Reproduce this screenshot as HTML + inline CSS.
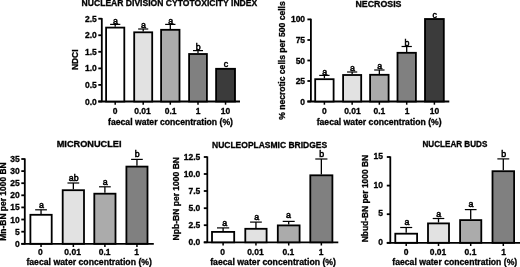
<!DOCTYPE html>
<html><head><meta charset="utf-8"><title>Figure</title>
<style>html,body{margin:0;padding:0;background:#fff}svg{display:block}
text{font-family:"Liberation Sans",Arial,sans-serif;font-weight:bold;fill:#000}
line,rect.b{stroke:#000}text{stroke:#000;stroke-width:0.3px}text.n{font-weight:normal;stroke-width:0.55px}
</style></head><body>
<svg width="520" height="267" viewBox="0 0 520 267">
<defs><filter id="soft" x="0" y="0" width="520" height="267" filterUnits="userSpaceOnUse"><feGaussianBlur stdDeviation="0.45"/></filter></defs>
<rect x="0" y="0" width="520" height="267" fill="#fff" stroke="none"/>
<g filter="url(#soft)">
<text x="169.40" y="6.00" text-anchor="middle" font-size="8.50" textLength="175.6" lengthAdjust="spacingAndGlyphs">NUCLEAR DIVISION CYTOTOXICITY INDEX</text>
<text x="77.74" y="59.75" text-anchor="middle" font-size="8.50" transform="rotate(-90 77.74 59.75)" textLength="20.5" lengthAdjust="spacingAndGlyphs">NDCI</text>
<line x1="101.80" y1="18.10" x2="101.80" y2="102.10" stroke-width="1.80"/>
<line x1="98.30" y1="101.50" x2="240.00" y2="101.50" stroke-width="1.80"/>
<line x1="98.30" y1="18.70" x2="101.80" y2="18.70" stroke-width="1.80"/>
<text x="96.80" y="21.74" text-anchor="end" font-size="8.50">2.5</text>
<line x1="98.30" y1="35.25" x2="101.80" y2="35.25" stroke-width="1.80"/>
<text x="96.80" y="38.29" text-anchor="end" font-size="8.50">2.0</text>
<line x1="98.30" y1="51.80" x2="101.80" y2="51.80" stroke-width="1.80"/>
<text x="96.80" y="54.84" text-anchor="end" font-size="8.50">1.5</text>
<line x1="98.30" y1="68.40" x2="101.80" y2="68.40" stroke-width="1.80"/>
<text x="96.80" y="71.44" text-anchor="end" font-size="8.50">1.0</text>
<line x1="98.30" y1="84.90" x2="101.80" y2="84.90" stroke-width="1.80"/>
<text x="96.80" y="87.94" text-anchor="end" font-size="8.50">0.5</text>
<line x1="98.30" y1="101.50" x2="101.80" y2="101.50" stroke-width="1.80"/>
<text x="96.80" y="104.54" text-anchor="end" font-size="8.50">0.0</text>
<line x1="115.20" y1="24.40" x2="115.20" y2="26.70" stroke-width="1.30"/>
<line x1="110.10" y1="24.40" x2="120.30" y2="24.40" stroke-width="1.20"/>
<rect class="b" x="106.10" y="27.60" width="18.20" height="73.90" fill="#ffffff" stroke-width="1.80"/>
<text class="n" x="115.50" y="23.80" text-anchor="middle" font-size="8.80">a</text>
<line x1="143.20" y1="29.00" x2="143.20" y2="31.40" stroke-width="1.30"/>
<line x1="138.15" y1="29.00" x2="148.25" y2="29.00" stroke-width="1.20"/>
<rect class="b" x="134.20" y="32.30" width="18.00" height="69.20" fill="#e2e2e2" stroke-width="1.80"/>
<text class="n" x="143.50" y="28.40" text-anchor="middle" font-size="8.80">a</text>
<line x1="170.30" y1="24.40" x2="170.30" y2="28.90" stroke-width="1.30"/>
<line x1="165.15" y1="24.40" x2="175.45" y2="24.40" stroke-width="1.20"/>
<rect class="b" x="161.10" y="29.80" width="18.40" height="71.70" fill="#ababab" stroke-width="1.80"/>
<text class="n" x="170.60" y="23.80" text-anchor="middle" font-size="8.80">a</text>
<line x1="198.00" y1="50.60" x2="198.00" y2="53.10" stroke-width="1.30"/>
<line x1="193.00" y1="50.60" x2="203.00" y2="50.60" stroke-width="1.20"/>
<rect class="b" x="189.10" y="54.00" width="17.80" height="47.50" fill="#808080" stroke-width="1.80"/>
<text class="n" x="198.30" y="50.00" text-anchor="middle" font-size="8.80">b</text>
<rect class="b" x="216.10" y="68.80" width="18.90" height="32.70" fill="#3a3a3a" stroke-width="1.80"/>
<text class="n" x="225.85" y="67.30" text-anchor="middle" font-size="8.80">c</text>
<line x1="115.20" y1="101.50" x2="115.20" y2="104.70" stroke-width="1.50"/>
<line x1="143.20" y1="101.50" x2="143.20" y2="104.70" stroke-width="1.50"/>
<line x1="170.30" y1="101.50" x2="170.30" y2="104.70" stroke-width="1.50"/>
<line x1="198.00" y1="101.50" x2="198.00" y2="104.70" stroke-width="1.50"/>
<line x1="225.55" y1="101.50" x2="225.55" y2="104.70" stroke-width="1.50"/>
<text x="115.10" y="114.04" text-anchor="middle" font-size="8.50">0</text>
<text x="142.50" y="114.04" text-anchor="middle" font-size="8.50">0.01</text>
<text x="170.60" y="114.04" text-anchor="middle" font-size="8.50">0.1</text>
<text x="198.00" y="114.04" text-anchor="middle" font-size="8.50">1</text>
<text x="225.50" y="114.04" text-anchor="middle" font-size="8.50">10</text>
<text x="170.50" y="124.94" text-anchor="middle" font-size="8.50" textLength="125.0" lengthAdjust="spacingAndGlyphs">faecal water concentration (%)</text>
<text x="378.50" y="6.60" text-anchor="middle" font-size="8.50" textLength="46.0" lengthAdjust="spacingAndGlyphs">NECROSIS</text>
<text x="284.84" y="60.55" text-anchor="middle" font-size="8.50" transform="rotate(-90 284.84 60.55)" textLength="118.5" lengthAdjust="spacingAndGlyphs">% necrotic cells per 500 cells</text>
<line x1="310.90" y1="18.80" x2="310.90" y2="102.10" stroke-width="1.80"/>
<line x1="307.40" y1="101.50" x2="449.30" y2="101.50" stroke-width="1.80"/>
<line x1="307.40" y1="19.40" x2="310.90" y2="19.40" stroke-width="1.80"/>
<text x="305.10" y="22.44" text-anchor="end" font-size="8.50">100</text>
<line x1="307.40" y1="40.00" x2="310.90" y2="40.00" stroke-width="1.80"/>
<text x="305.10" y="43.04" text-anchor="end" font-size="8.50">75</text>
<line x1="307.40" y1="60.50" x2="310.90" y2="60.50" stroke-width="1.80"/>
<text x="305.10" y="63.54" text-anchor="end" font-size="8.50">50</text>
<line x1="307.40" y1="81.00" x2="310.90" y2="81.00" stroke-width="1.80"/>
<text x="305.10" y="84.04" text-anchor="end" font-size="8.50">25</text>
<line x1="307.40" y1="101.50" x2="310.90" y2="101.50" stroke-width="1.80"/>
<text x="305.10" y="104.54" text-anchor="end" font-size="8.50">0</text>
<line x1="324.40" y1="75.40" x2="324.40" y2="78.30" stroke-width="1.30"/>
<line x1="319.25" y1="75.40" x2="329.55" y2="75.40" stroke-width="1.20"/>
<rect class="b" x="315.20" y="79.20" width="18.40" height="22.30" fill="#ffffff" stroke-width="1.80"/>
<text class="n" x="324.70" y="74.80" text-anchor="middle" font-size="8.80">a</text>
<line x1="352.15" y1="72.00" x2="352.15" y2="74.10" stroke-width="1.30"/>
<line x1="347.07" y1="72.00" x2="357.22" y2="72.00" stroke-width="1.20"/>
<rect class="b" x="343.10" y="75.00" width="18.10" height="26.50" fill="#e2e2e2" stroke-width="1.80"/>
<text class="n" x="352.45" y="71.40" text-anchor="middle" font-size="8.80">a</text>
<line x1="379.35" y1="70.00" x2="379.35" y2="73.90" stroke-width="1.30"/>
<line x1="374.18" y1="70.00" x2="384.53" y2="70.00" stroke-width="1.20"/>
<rect class="b" x="370.10" y="74.80" width="18.50" height="26.70" fill="#ababab" stroke-width="1.80"/>
<text class="n" x="379.65" y="69.40" text-anchor="middle" font-size="8.80">a</text>
<line x1="406.70" y1="46.50" x2="406.70" y2="51.90" stroke-width="1.30"/>
<line x1="401.55" y1="46.50" x2="411.85" y2="46.50" stroke-width="1.20"/>
<rect class="b" x="397.50" y="52.80" width="18.40" height="48.70" fill="#808080" stroke-width="1.80"/>
<text class="n" x="407.00" y="45.90" text-anchor="middle" font-size="8.80">b</text>
<rect class="b" x="425.00" y="19.00" width="18.80" height="82.50" fill="#3a3a3a" stroke-width="1.80"/>
<text class="n" x="434.70" y="17.50" text-anchor="middle" font-size="8.80">c</text>
<line x1="324.40" y1="101.50" x2="324.40" y2="104.70" stroke-width="1.50"/>
<line x1="352.15" y1="101.50" x2="352.15" y2="104.70" stroke-width="1.50"/>
<line x1="379.35" y1="101.50" x2="379.35" y2="104.70" stroke-width="1.50"/>
<line x1="406.70" y1="101.50" x2="406.70" y2="104.70" stroke-width="1.50"/>
<line x1="434.40" y1="101.50" x2="434.40" y2="104.70" stroke-width="1.50"/>
<text x="324.40" y="114.04" text-anchor="middle" font-size="8.50">0</text>
<text x="352.40" y="114.04" text-anchor="middle" font-size="8.50">0.01</text>
<text x="379.40" y="114.04" text-anchor="middle" font-size="8.50">0.1</text>
<text x="407.00" y="114.04" text-anchor="middle" font-size="8.50">1</text>
<text x="434.50" y="114.04" text-anchor="middle" font-size="8.50">10</text>
<text x="379.15" y="124.94" text-anchor="middle" font-size="8.50" textLength="124.9" lengthAdjust="spacingAndGlyphs">faecal water concentration (%)</text>
<text x="89.10" y="147.20" text-anchor="middle" font-size="8.50" textLength="64.8" lengthAdjust="spacingAndGlyphs">MICRONUCLEI</text>
<text x="6.44" y="201.50" text-anchor="middle" font-size="8.50" transform="rotate(-90 6.44 201.50)" textLength="78.4" lengthAdjust="spacingAndGlyphs">Mn-BN per 1000 BN</text>
<line x1="24.80" y1="158.40" x2="24.80" y2="244.40" stroke-width="1.80"/>
<line x1="21.30" y1="243.80" x2="153.80" y2="243.80" stroke-width="1.80"/>
<line x1="21.30" y1="159.00" x2="24.80" y2="159.00" stroke-width="1.80"/>
<text x="19.80" y="162.04" text-anchor="end" font-size="8.50">35</text>
<line x1="21.30" y1="171.10" x2="24.80" y2="171.10" stroke-width="1.80"/>
<text x="19.80" y="174.14" text-anchor="end" font-size="8.50">30</text>
<line x1="21.30" y1="183.20" x2="24.80" y2="183.20" stroke-width="1.80"/>
<text x="19.80" y="186.24" text-anchor="end" font-size="8.50">25</text>
<line x1="21.30" y1="195.30" x2="24.80" y2="195.30" stroke-width="1.80"/>
<text x="19.80" y="198.34" text-anchor="end" font-size="8.50">20</text>
<line x1="21.30" y1="207.40" x2="24.80" y2="207.40" stroke-width="1.80"/>
<text x="19.80" y="210.44" text-anchor="end" font-size="8.50">15</text>
<line x1="21.30" y1="219.50" x2="24.80" y2="219.50" stroke-width="1.80"/>
<text x="19.80" y="222.54" text-anchor="end" font-size="8.50">10</text>
<line x1="21.30" y1="231.70" x2="24.80" y2="231.70" stroke-width="1.80"/>
<text x="19.80" y="234.74" text-anchor="end" font-size="8.50">5</text>
<line x1="21.30" y1="243.80" x2="24.80" y2="243.80" stroke-width="1.80"/>
<text x="19.80" y="246.84" text-anchor="end" font-size="8.50">0</text>
<line x1="41.05" y1="209.80" x2="41.05" y2="213.90" stroke-width="1.30"/>
<line x1="35.17" y1="209.80" x2="46.92" y2="209.80" stroke-width="1.20"/>
<rect class="b" x="30.40" y="214.80" width="21.30" height="29.00" fill="#ffffff" stroke-width="1.80"/>
<text class="n" x="41.35" y="207.80" text-anchor="middle" font-size="8.80">a</text>
<line x1="73.35" y1="183.00" x2="73.35" y2="189.30" stroke-width="1.30"/>
<line x1="67.47" y1="183.00" x2="79.22" y2="183.00" stroke-width="1.20"/>
<rect class="b" x="62.70" y="190.20" width="21.30" height="53.60" fill="#e2e2e2" stroke-width="1.80"/>
<text class="n" x="73.65" y="181.00" text-anchor="middle" font-size="8.80">ab</text>
<line x1="104.90" y1="186.80" x2="104.90" y2="192.80" stroke-width="1.30"/>
<line x1="99.05" y1="186.80" x2="110.75" y2="186.80" stroke-width="1.20"/>
<rect class="b" x="94.30" y="193.70" width="21.20" height="50.10" fill="#ababab" stroke-width="1.80"/>
<text class="n" x="105.20" y="184.80" text-anchor="middle" font-size="8.80">a</text>
<line x1="136.95" y1="159.40" x2="136.95" y2="165.70" stroke-width="1.30"/>
<line x1="131.12" y1="159.40" x2="142.77" y2="159.40" stroke-width="1.20"/>
<rect class="b" x="126.40" y="166.60" width="21.10" height="77.20" fill="#808080" stroke-width="1.80"/>
<text class="n" x="137.25" y="157.40" text-anchor="middle" font-size="8.80">b</text>
<line x1="41.05" y1="243.80" x2="41.05" y2="247.00" stroke-width="1.50"/>
<line x1="73.35" y1="243.80" x2="73.35" y2="247.00" stroke-width="1.50"/>
<line x1="104.90" y1="243.80" x2="104.90" y2="247.00" stroke-width="1.50"/>
<line x1="136.95" y1="243.80" x2="136.95" y2="247.00" stroke-width="1.50"/>
<text x="40.30" y="255.04" text-anchor="middle" font-size="8.50">0</text>
<text x="72.60" y="255.04" text-anchor="middle" font-size="8.50">0.01</text>
<text x="104.60" y="255.04" text-anchor="middle" font-size="8.50">0.1</text>
<text x="136.70" y="255.04" text-anchor="middle" font-size="8.50">1</text>
<text x="89.15" y="265.44" text-anchor="middle" font-size="8.50" textLength="125.5" lengthAdjust="spacingAndGlyphs">faecal water concentration (%)</text>
<text x="269.60" y="147.50" text-anchor="middle" font-size="8.50" textLength="115.2" lengthAdjust="spacingAndGlyphs">NUCLEOPLASMIC BRIDGES</text>
<text x="179.04" y="198.70" text-anchor="middle" font-size="8.50" transform="rotate(-90 179.04 198.70)" textLength="83.4" lengthAdjust="spacingAndGlyphs">Npb-BN per 1000 BN</text>
<line x1="207.30" y1="156.40" x2="207.30" y2="242.90" stroke-width="1.80"/>
<line x1="203.80" y1="242.30" x2="338.30" y2="242.30" stroke-width="1.80"/>
<line x1="203.80" y1="157.00" x2="207.30" y2="157.00" stroke-width="1.80"/>
<text x="200.30" y="160.04" text-anchor="end" font-size="8.50">12.5</text>
<line x1="203.80" y1="174.00" x2="207.30" y2="174.00" stroke-width="1.80"/>
<text x="200.30" y="177.04" text-anchor="end" font-size="8.50">10.0</text>
<line x1="203.80" y1="191.00" x2="207.30" y2="191.00" stroke-width="1.80"/>
<text x="200.30" y="194.04" text-anchor="end" font-size="8.50">7.5</text>
<line x1="203.80" y1="208.20" x2="207.30" y2="208.20" stroke-width="1.80"/>
<text x="200.30" y="211.24" text-anchor="end" font-size="8.50">5.0</text>
<line x1="203.80" y1="225.20" x2="207.30" y2="225.20" stroke-width="1.80"/>
<text x="200.30" y="228.24" text-anchor="end" font-size="8.50">2.5</text>
<line x1="203.80" y1="242.30" x2="207.30" y2="242.30" stroke-width="1.80"/>
<text x="200.30" y="245.34" text-anchor="end" font-size="8.50">0.0</text>
<line x1="223.10" y1="227.90" x2="223.10" y2="231.00" stroke-width="1.30"/>
<line x1="217.00" y1="227.90" x2="229.20" y2="227.90" stroke-width="1.20"/>
<rect class="b" x="212.00" y="231.90" width="22.20" height="10.40" fill="#ffffff" stroke-width="1.80"/>
<text class="n" x="224.70" y="226.30" text-anchor="middle" font-size="8.80">a</text>
<line x1="255.95" y1="222.10" x2="255.95" y2="227.90" stroke-width="1.30"/>
<line x1="250.07" y1="222.10" x2="261.82" y2="222.10" stroke-width="1.20"/>
<rect class="b" x="245.30" y="228.80" width="21.30" height="13.50" fill="#e2e2e2" stroke-width="1.80"/>
<text class="n" x="256.65" y="220.10" text-anchor="middle" font-size="8.80">a</text>
<line x1="288.70" y1="221.40" x2="288.70" y2="224.50" stroke-width="1.30"/>
<line x1="282.70" y1="221.40" x2="294.70" y2="221.40" stroke-width="1.20"/>
<rect class="b" x="277.80" y="225.40" width="21.80" height="16.90" fill="#ababab" stroke-width="1.80"/>
<text class="n" x="288.50" y="218.40" text-anchor="middle" font-size="8.80">a</text>
<line x1="321.35" y1="159.00" x2="321.35" y2="174.40" stroke-width="1.30"/>
<line x1="315.28" y1="159.00" x2="327.43" y2="159.00" stroke-width="1.20"/>
<rect class="b" x="310.30" y="175.30" width="22.10" height="67.00" fill="#808080" stroke-width="1.80"/>
<text class="n" x="321.65" y="157.10" text-anchor="middle" font-size="8.80">b</text>
<line x1="223.10" y1="242.30" x2="223.10" y2="245.50" stroke-width="1.50"/>
<line x1="255.95" y1="242.30" x2="255.95" y2="245.50" stroke-width="1.50"/>
<line x1="288.70" y1="242.30" x2="288.70" y2="245.50" stroke-width="1.50"/>
<line x1="321.35" y1="242.30" x2="321.35" y2="245.50" stroke-width="1.50"/>
<text x="222.60" y="255.04" text-anchor="middle" font-size="8.50">0</text>
<text x="255.40" y="255.04" text-anchor="middle" font-size="8.50">0.01</text>
<text x="288.40" y="255.04" text-anchor="middle" font-size="8.50">0.1</text>
<text x="321.00" y="255.04" text-anchor="middle" font-size="8.50">1</text>
<text x="273.10" y="265.44" text-anchor="middle" font-size="8.50" textLength="125.8" lengthAdjust="spacingAndGlyphs">faecal water concentration (%)</text>
<text x="454.90" y="147.30" text-anchor="middle" font-size="8.50" textLength="64.8" lengthAdjust="spacingAndGlyphs">NUCLEAR BUDS</text>
<text x="367.74" y="198.60" text-anchor="middle" font-size="8.50" transform="rotate(-90 367.74 198.60)" textLength="87.4" lengthAdjust="spacingAndGlyphs">Nbud-BN per 1000 BN</text>
<line x1="390.30" y1="156.40" x2="390.30" y2="243.40" stroke-width="1.80"/>
<line x1="386.80" y1="242.80" x2="521.00" y2="242.80" stroke-width="1.80"/>
<line x1="386.80" y1="157.00" x2="390.30" y2="157.00" stroke-width="1.80"/>
<text x="383.00" y="159.14" text-anchor="end" font-size="8.50">15</text>
<line x1="386.80" y1="185.60" x2="390.30" y2="185.60" stroke-width="1.80"/>
<text x="383.00" y="187.74" text-anchor="end" font-size="8.50">10</text>
<line x1="386.80" y1="214.20" x2="390.30" y2="214.20" stroke-width="1.80"/>
<text x="383.00" y="216.34" text-anchor="end" font-size="8.50">5</text>
<line x1="386.80" y1="242.80" x2="390.30" y2="242.80" stroke-width="1.80"/>
<text x="383.00" y="244.94" text-anchor="end" font-size="8.50">0</text>
<line x1="406.20" y1="227.50" x2="406.20" y2="232.80" stroke-width="1.30"/>
<line x1="400.20" y1="227.50" x2="412.20" y2="227.50" stroke-width="1.20"/>
<rect class="b" x="395.30" y="233.70" width="21.80" height="9.10" fill="#ffffff" stroke-width="1.80"/>
<text class="n" x="406.90" y="225.10" text-anchor="middle" font-size="8.80">a</text>
<line x1="438.50" y1="218.50" x2="438.50" y2="222.50" stroke-width="1.30"/>
<line x1="432.70" y1="218.50" x2="444.30" y2="218.50" stroke-width="1.20"/>
<rect class="b" x="428.00" y="223.40" width="21.00" height="19.40" fill="#e2e2e2" stroke-width="1.80"/>
<text class="n" x="438.80" y="216.50" text-anchor="middle" font-size="8.80">a</text>
<line x1="470.70" y1="209.60" x2="470.70" y2="219.20" stroke-width="1.30"/>
<line x1="464.85" y1="209.60" x2="476.55" y2="209.60" stroke-width="1.20"/>
<rect class="b" x="460.10" y="220.10" width="21.20" height="22.70" fill="#ababab" stroke-width="1.80"/>
<text class="n" x="471.00" y="207.40" text-anchor="middle" font-size="8.80">a</text>
<line x1="503.30" y1="158.90" x2="503.30" y2="170.30" stroke-width="1.30"/>
<line x1="497.35" y1="158.90" x2="509.25" y2="158.90" stroke-width="1.20"/>
<rect class="b" x="492.50" y="171.20" width="21.60" height="71.60" fill="#808080" stroke-width="1.80"/>
<text class="n" x="503.60" y="157.00" text-anchor="middle" font-size="8.80">b</text>
<line x1="406.20" y1="242.80" x2="406.20" y2="246.00" stroke-width="1.50"/>
<line x1="438.50" y1="242.80" x2="438.50" y2="246.00" stroke-width="1.50"/>
<line x1="470.70" y1="242.80" x2="470.70" y2="246.00" stroke-width="1.50"/>
<line x1="503.30" y1="242.80" x2="503.30" y2="246.00" stroke-width="1.50"/>
<text x="406.20" y="255.04" text-anchor="middle" font-size="8.50">0</text>
<text x="438.00" y="255.04" text-anchor="middle" font-size="8.50">0.01</text>
<text x="470.50" y="255.04" text-anchor="middle" font-size="8.50">0.1</text>
<text x="503.50" y="255.04" text-anchor="middle" font-size="8.50">1</text>
<text x="454.75" y="265.44" text-anchor="middle" font-size="8.50" textLength="124.9" lengthAdjust="spacingAndGlyphs">faecal water concentration (%)</text>
</g>
</svg>
</body></html>
